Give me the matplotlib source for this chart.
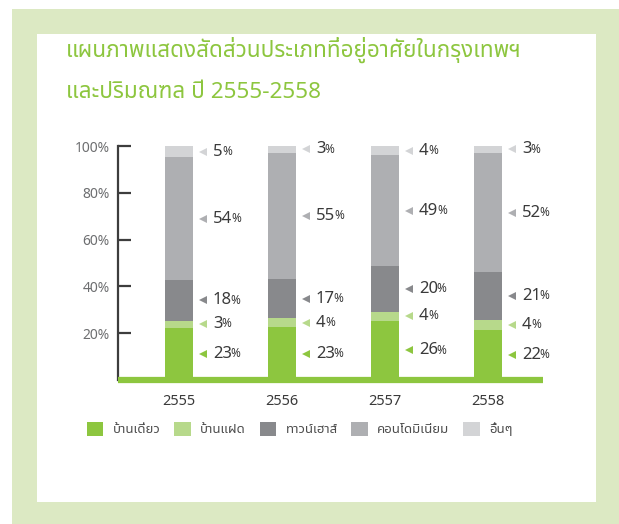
import matplotlib
matplotlib.use("Agg")
import matplotlib.pyplot as plt
from matplotlib import font_manager as fm
from matplotlib.ft2font import FT2Font
from matplotlib.patches import Rectangle
import numpy as np

# ---------------- data ----------------
years = ["2555", "2556", "2557", "2558"]
series = ["บ้านเดี่ยว", "บ้านแฝด", "ทาวน์เฮาส์", "คอนโดมิเนียม", "อื่นๆ"]
detached = [23, 23, 26, 22]
semi = [3, 4, 4, 4]
townhouse = [18, 17, 20, 21]
condo = [54, 55, 49, 52]
others = [5, 3, 4, 3]
yticks = [20, 40, 60, 80, 100]
ytick_labels = ["20%", "40%", "60%", "80%", "100%"]
title_line1 = "แผนภาพแสดงสัดส่วนประเภทที่อยู่อาศัยในกรุงเทพฯ"
title_line2 = "และปริมณฑล ปี 2555-2558"

colors = ["#8dc63f", "#b7d98b", "#88898c", "#aeafb2", "#d3d4d6"]


def find_thai():
    found = []
    for f in fm.fontManager.ttflist:
        try:
            cm = FT2Font(f.fname).get_charmap()
            if 0x0E01 in cm and 0x0E2A in cm and 0x0E48 in cm:
                found.append(f.name)
        except Exception:
            pass
    for pref in ["Noto Sans Thai", "Noto Sans Thai UI", "Loma", "Garuda", "Sarabun", "Kinnari"]:
        if pref in found:
            return pref
    return found[0] if found else None


thai = find_thai()
fam = ([thai] if thai else []) + ["DejaVu Sans"]
plt.rcParams["font.family"] = fam

W, H = 619, 524
fig = plt.figure(figsize=(W / 100, H / 100), dpi=100)
fig.patch.set_facecolor("white")


def px_rect(x0, y0, x1, y1, color):
    fig.patches.append(Rectangle((x0 / W, 1 - y1 / H), (x1 - x0) / W, (y1 - y0) / H,
                                 transform=fig.transFigure, facecolor=color,
                                 edgecolor="none", zorder=-10))


px_rect(12, 9, 619, 524, "#dce9c3")
px_rect(37, 34, 596, 502, "white")

fig.text(66 / W, 1 - 50 / H, title_line1, color="#8dc63f", fontsize=16.2,
         va="center", ha="left", fontweight="medium")
fig.text(66 / W, 1 - 92 / H, title_line2, color="#8dc63f", fontsize=16.2,
         va="center", ha="left", fontweight="medium")

# axes
ax_left, ax_right = 118, 543
y0px, y100px = 380, 146
ax = fig.add_axes([ax_left / W, 1 - y0px / H, (ax_right - ax_left) / W, (y0px - y100px) / H])
ax.set_facecolor("none")

data = np.array([detached, semi, townhouse, condo, others], dtype=float)
totals = data.sum(axis=0)
norm = data / totals * 100
x = np.arange(len(years))
bw = 0.272
bottom = np.zeros(len(years))
handles = []
for i in range(len(series)):
    b = ax.bar(x, norm[i], bw, bottom=bottom, color=colors[i], label=series[i], zorder=2)
    handles.append(b)
    for j in range(len(years)):
        mid = bottom[j] + norm[i][j] / 2
        ax.plot(x[j] + 0.235, mid, marker="<", color=colors[i], markersize=6,
                markeredgewidth=0, clip_on=False)
        t = ax.text(x[j] + 0.33, mid, f"{int(data[i][j])}", fontsize=12,
                    color="#3a3a3a", va="center", ha="left")
        ax.annotate("%", xy=(0.93, 0.12), xycoords=t, fontsize=8.5, color="#3a3a3a",
                    va="bottom", ha="left")
    bottom += norm[i]

ax.set_xlim((ax_left - 179) / 103, (ax_right - 179) / 103)
ax.set_ylim(0, 100)
ax.axhline(0, color="#8dc63f", linewidth=4.5, zorder=3, clip_on=False,
           solid_capstyle="butt")

for s in ["top", "right", "bottom"]:
    ax.spines[s].set_visible(False)
ax.spines["left"].set_color("#3d3d3d")
ax.spines["left"].set_linewidth(1.6)
ax.set_yticks(yticks)
ax.set_yticklabels(ytick_labels)
ax.tick_params(axis="y", direction="in", length=9, width=1.6, color="#3d3d3d",
               labelcolor="#6d6e70", labelsize=10, pad=6)
ax.set_xticks(x)
ax.set_xticklabels(years)
ax.tick_params(axis="x", length=0, pad=10, labelsize=10.5, labelcolor="#3a3a3a")
for lab in ax.get_xticklabels():
    lab.set_fontweight("bold")

fig.legend(handles=handles, labels=series, loc="center left",
           bbox_to_anchor=(87 / W, 1 - 429 / H), ncol=5, frameon=False,
           fontsize=9.5, handlelength=1.25, handleheight=1.25, handletextpad=0.7,
           columnspacing=1.05, borderpad=0, borderaxespad=0, labelcolor="#4d4d4d")

fig.savefig("out.png", dpi=100)
